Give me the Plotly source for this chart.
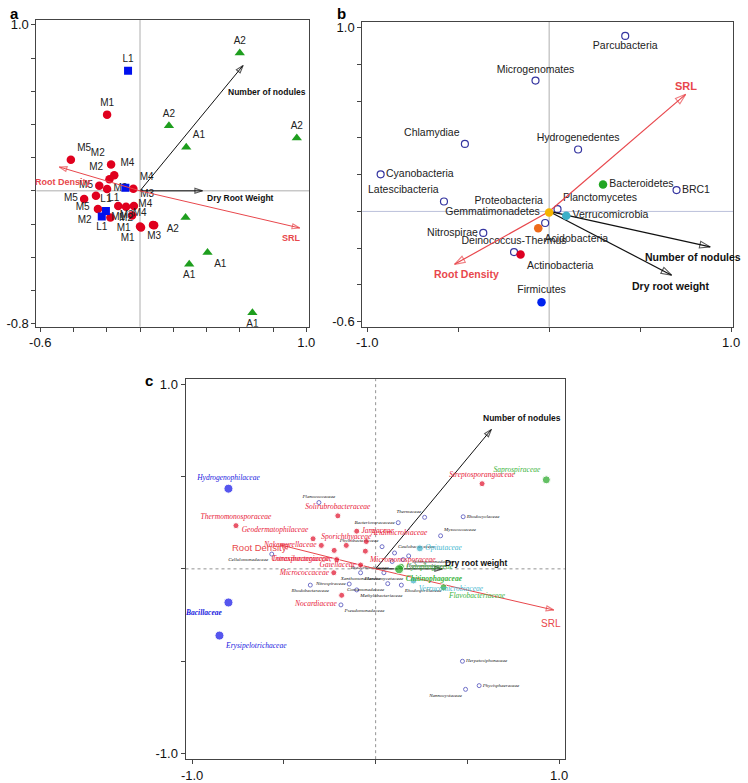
import plotly.graph_objects as go

# ---------------- Panel a data ----------------
a_m_x = [-0.198, -0.416, -0.174, -0.155, -0.184, -0.245, -0.198, -0.040, -0.265, -0.336, -0.253, -0.131, -0.084, -0.037, -0.178, -0.048, 0.006, 0.085, 0.000, 0.078]
a_m_y = [0.459, 0.187, 0.159, 0.094, 0.070, 0.030, 0.011, 0.012, -0.030, -0.049, -0.109, -0.092, -0.096, -0.092, -0.161, -0.148, -0.221, -0.207, -0.215, -0.205]
a_m_lab = ["M1", "M5", "M2", "M4", "M2", "M5", "M2", "M4", "M5", "M5", "M2", "M1", "M2", "M3", "M1", "M4", "M1", "M3", "M3", "M4"]
a_l_x = [-0.072, -0.088, -0.205, -0.230]
a_l_y = [0.724, 0.019, -0.121, -0.154]
a_l_lab = ["L1", "L1", "L1", "L1"]
a_a_x = [0.600, 0.174, 0.278, 0.943, 0.274, 0.406, 0.296, 0.676]
a_a_y = [0.830, 0.392, 0.263, 0.318, -0.160, -0.372, -0.442, -0.735]
a_a_lab = ["A2", "A2", "A1", "A2", "A2", "A1", "A1", "A1"]
a_vec_names = ["Number of nodules", "Dry Root Weight", "SRL", "Root Density"]
a_vec_x = [0.620, 0.376, 0.961, -0.486]
a_vec_y = [0.755, 0.000, -0.224, 0.144]

# ---------------- Panel b data ----------------
b_names = ["Parcubacteria", "Microgenomates", "Chlamydiae", "Hydrogenedentes", "Cyanobacteria",
           "Bacteroidetes", "BRC1", "Latescibacteria", "Proteobacteria", "Planctomycetes",
           "Verrucomicrobia", "Gemmatimonadetes", "Acidobacteria", "Nitrospirae",
           "Deinococcus-Thermus", "Actinobacteria", "Firmicutes"]
b_x = [0.418, -0.075, -0.463, 0.159, -0.926, 0.296, 0.700, -0.578, 0.000, 0.046, 0.094, -0.022, -0.060, -0.362, -0.193, -0.157, -0.042]
b_y = [0.955, 0.712, 0.367, 0.337, 0.202, 0.147, 0.116, 0.054, -0.006, 0.012, -0.024, -0.063, -0.092, -0.117, -0.221, -0.234, -0.494]
b_vec_names = ["SRL", "Root Density", "Number of nodules", "Dry root weight"]
b_vec_x = [0.750, -0.520, 0.885, 0.673]
b_vec_y = [0.637, -0.288, -0.193, -0.347]

# ---------------- Panel c data ----------------
c_names = ["Hydrogenophilaceae", "Bacillaceae", "Erysipelotrichaceae",
           "Streptosporangiaceae", "Thermomonosporaceae", "Solirubrobacteraceae", "Jamiaceae",
           "Geodermatophilaceae", "Sporichthyaceae", "Acidimicrobiaceae", "Nakamurellaceae",
           "Conexibacteraceae", "Micromonosporaceae", "Intrasporangiaceae", "Gaiellaceae",
           "Micrococcaceae", "Nocardiaceae",
           "Saprospiraceae", "Cytophagaceae", "Chitinophagaceae", "Flavobacteriaceae",
           "Opitutaceae", "Verrucomicrobiaceae"]
c_x = [-0.802, -0.802, -0.851,
       0.580, -0.761, -0.206, -0.103, -0.341, -0.160, -0.051, -0.296, -0.226, -0.056, -0.212, -0.082, -0.228, -0.185,
       0.930, 0.138, 0.128, 0.370,
       0.241, 0.206]
c_y = [0.434, -0.182, -0.361,
       0.461, 0.234, 0.287, 0.204, 0.163, 0.127, 0.148, 0.127, 0.100, 0.096, 0.050, 0.021, -0.021, -0.143,
       0.482, 0.012, -0.002, -0.100,
       0.111, -0.063]
c_minor_names = ["Planococcaceae", "Bacteriovoracaceae", "Thermaceae", "Rhodocyclaceae", "Myxococcaceae",
                 "Cellulomonadaceae", "Phyllobacteriaceae", "Caulobacteraceae", "Sphingomonadaceae",
                 "Hyphomicrobiaceae", "Bradyrhizobiaceae", "Xanthomonadaceae", "Planctomycetaceae",
                 "Rhodobacteraceae", "Nitrospiraceae", "Comamonadaceae", "Methylobacteriaceae",
                 "Rhodospirillaceae", "Pseudomonadaceae", "Herpetosiphonaceae", "Phycisphaeraceae",
                 "Nannocystaceae"]
c_minor_x = [-0.309, 0.123, 0.267, 0.477, 0.354, -0.566, 0.035, 0.103, 0.180, 0.150, 0.090, -0.082, 0.045,
             -0.356, -0.144, 0.066, -0.103, 0.140, -0.189, 0.473, 0.564, 0.490]
c_minor_y = [0.359, 0.250, 0.279, 0.282, 0.179, 0.080, 0.120, 0.086, 0.070, 0.050, 0.040, -0.021, -0.021,
             -0.088, -0.082, -0.080, -0.114, -0.088, -0.195, -0.500, -0.632, -0.652]
c_vec_names = ["Number of nodules", "Dry root weight", "SRL", "Root Density"]
c_vec_x = [0.631, 0.364, 0.971, -0.520]
c_vec_y = [0.755, 0.000, -0.223, 0.130]

# ---------------- styles ----------------
RED = "#E0001E"
GREEN = "#1E9E1E"
BLUE = "#0010EE"
ARROW_RED = "#E8474C"
TXT = "#222222"

a_m_pos = ["top center", "top right", "top left", "top right", "top left", "middle left", "middle right",
           "top right", "bottom left", "middle left", "bottom left", "bottom center", "bottom center",
           "top right", "bottom right", "top right", "bottom left", "bottom center", "top left", "top left"]
a_l_pos = ["top center", "bottom left", "top center", "bottom center"]
a_a_pos = ["top center", "top center", "top right", "top center", "bottom left", "bottom right",
           "bottom center", "bottom center"]

b_style = {
    "Bacteroidetes": "#22A622", "Proteobacteria": "#F5B400", "Verrucomicrobia": "#3BB0C8",
    "Acidobacteria": "#EE6A1A", "Actinobacteria": "#DD0022", "Firmicutes": "#0022EE",
}
b_pos = ["bottom center", "top center", "top left", "top center", "middle right", "middle right",
         "middle right", "top left", "top left", "top right", "middle right", "top left", "bottom right",
         "middle left", "top center", "bottom right", "top center"]

c_col = (["#1010E8"] * 3 + ["#E0102A"] * 14 + ["#22A622"] * 4 + ["#3BAFC8"] * 2)
c_txtcol = (["#2020E0"] * 3 + ["#E8213A"] * 14 + ["#3CB43C"] * 4 + ["#45B8D0"] * 2)
c_size = [9, 9, 9] + [6] * 14 + [8, 7, 9, 7] + [7, 7]
c_pos = ["top center", "bottom left", "bottom right",
         "top center", "top center", "top center", "middle right", "top left", "top center", "top right",
         "middle left", "bottom left", "bottom right", "middle left", "middle left", "middle left", "bottom left",
         "top left", "middle right", "bottom right", "bottom right",
         "middle right", "bottom right"]
c_bold = {"Bacillaceae", "Chitinophagaceae"}
c_minor_pos = ["top center", "middle left", "top left", "middle right", "top right", "bottom left",
               "top left", "top right", "bottom right", "bottom right", "bottom left", "bottom center",
               "bottom center", "bottom center", "middle left", "bottom left", "bottom right", "bottom right",
               "bottom right", "middle right", "middle right", "bottom left"]

fig = go.Figure()


def arrow(xa, ya, vx, vy, color, width=1.1, size=8):
    fig.add_trace(go.Scatter(
        x=[0, vx], y=[0, vy], xaxis=xa, yaxis=ya, mode="lines+markers",
        line=dict(color=color, width=width),
        marker=dict(symbol=["circle", "arrow-open"], size=[0, size], angleref="previous",
                    color=color, line=dict(color=color, width=1.1)),
        hoverinfo="skip", showlegend=False))


# ---------- Panel a ----------
fig.add_trace(go.Scatter(x=a_m_x, y=a_m_y, xaxis="x", yaxis="y", mode="markers+text", text=a_m_lab,
                         textposition=a_m_pos, textfont=dict(size=10, color=TXT, family="Arial"),
                         marker=dict(color=RED, size=8.5), showlegend=False))
fig.add_trace(go.Scatter(x=a_l_x, y=a_l_y, xaxis="x", yaxis="y", mode="markers+text", text=a_l_lab,
                         textposition=a_l_pos, textfont=dict(size=10, color=TXT, family="Arial"),
                         marker=dict(color=BLUE, size=8, symbol="square"), showlegend=False))
fig.add_trace(go.Scatter(x=a_a_x, y=a_a_y, xaxis="x", yaxis="y", mode="markers+text", text=a_a_lab,
                         textposition=a_a_pos, textfont=dict(size=10, color=TXT, family="Arial"),
                         marker=dict(color=GREEN, size=9, symbol="triangle-up"), showlegend=False))
a_cols = ["#111111", "#111111", ARROW_RED, ARROW_RED]
for i in range(4):
    arrow("x", "y", a_vec_x[i], a_vec_y[i], a_cols[i], width=1)

# ---------- Panel b ----------
open_idx = [i for i, n in enumerate(b_names) if n not in b_style]
fill_idx = [i for i, n in enumerate(b_names) if n in b_style]
fig.add_trace(go.Scatter(x=[b_x[i] for i in open_idx], y=[b_y[i] for i in open_idx], xaxis="x2", yaxis="y2",
                         mode="markers+text", text=[b_names[i] for i in open_idx],
                         textposition=[b_pos[i] for i in open_idx],
                         textfont=dict(size=10.5, color=TXT, family="Arial"),
                         marker=dict(symbol="circle-open", size=7, color="#3535A0", line=dict(width=1.2)),
                         showlegend=False))
b_arrow_cols = [ARROW_RED, ARROW_RED, "#111111", "#111111"]
for i in range(4):
    arrow("x2", "y2", b_vec_x[i], b_vec_y[i], b_arrow_cols[i], width=1.2, size=11)
fig.add_trace(go.Scatter(x=[b_x[i] for i in fill_idx], y=[b_y[i] for i in fill_idx], xaxis="x2", yaxis="y2",
                         mode="markers+text", text=[b_names[i] for i in fill_idx],
                         textposition=[b_pos[i] for i in fill_idx],
                         textfont=dict(size=10.5, color=TXT, family="Arial"),
                         marker=dict(size=8.5, color=[b_style[b_names[i]] for i in fill_idx]),
                         showlegend=False))

# ---------- Panel c ----------
fig.add_trace(go.Scatter(x=c_minor_x, y=c_minor_y, xaxis="x3", yaxis="y3", mode="markers+text",
                         text=["<i>" + n + "</i>" for n in c_minor_names], textposition=c_minor_pos,
                         textfont=dict(size=5, color="#111111", family="Liberation Serif"),
                         marker=dict(symbol="circle-open", size=4, color="#7070C8", line=dict(width=1)),
                         showlegend=False))
c_arrow_cols = ["#111111", "#111111", ARROW_RED, ARROW_RED]
for i in range(4):
    arrow("x3", "y3", c_vec_x[i], c_vec_y[i], c_arrow_cols[i], width=1, size=8)
fig.add_trace(go.Scatter(x=c_x, y=c_y, xaxis="x3", yaxis="y3", mode="markers+text",
                         text=[("<b><i>" + n + "</i></b>") if n in c_bold else ("<i>" + n + "</i>") for n in c_names],
                         textposition=c_pos,
                         textfont=dict(size=7.5, color=c_txtcol, family="Liberation Serif"),
                         marker=dict(size=c_size, color=c_col), showlegend=False))

# ---------- arrow labels ----------
ann = []
a_lab_style = [dict(xs=24, ys=-27, col="#111111", bold=True, size=8.5, anchor="center"),
               dict(xs=2, ys=-7, col="#111111", bold=True, size=8.5, anchor="left"),
               dict(xs=-8, ys=-10, col=ARROW_RED, bold=True, size=9, anchor="center"),
               dict(xs=4, ys=-15, col=ARROW_RED, bold=True, size=9, anchor="center")]
b_lab_style = [dict(xs=0, ys=8, col=ARROW_RED, bold=True, size=11, anchor="center"),
               dict(xs=12, ys=-10, col=ARROW_RED, bold=True, size=10.5, anchor="center"),
               dict(xs=-17, ys=-10, col="#111111", bold=True, size=10.5, anchor="center"),
               dict(xs=-1, ys=-11, col="#111111", bold=True, size=10.5, anchor="center")]
c_lab_style = [dict(xs=31, ys=11, col="#111111", bold=True, size=8.5, anchor="center"),
               dict(xs=34, ys=6, col="#111111", bold=True, size=8.5, anchor="center"),
               dict(xs=-3, ys=-13, col=ARROW_RED, bold=False, size=10, anchor="center"),
               dict(xs=-21, ys=-3, col=ARROW_RED, bold=False, size=9.5, anchor="center")]
for names, vx, vy, styles, xr, yr in [(a_vec_names, a_vec_x, a_vec_y, a_lab_style, "x", "y"),
                                       (b_vec_names, b_vec_x, b_vec_y, b_lab_style, "x2", "y2"),
                                       (c_vec_names, c_vec_x, c_vec_y, c_lab_style, "x3", "y3")]:
    for n, x, y, s in zip(names, vx, vy, styles):
        ann.append(dict(x=x, y=y, xref=xr, yref=yr, text=("<b>%s</b>" % n) if s["bold"] else n,
                        showarrow=False, xshift=s["xs"], yshift=s["ys"], xanchor=s["anchor"],
                        font=dict(size=s["size"], color=s["col"], family="Arial")))

# panel letters
for t, x, y in [("a", 0.002, 0.999), ("b", 0.447, 0.999), ("c", 0.185, 0.525)]:
    ann.append(dict(x=x, y=y, xref="paper", yref="paper", text="<b>%s</b>" % t, showarrow=False,
                    xanchor="left", yanchor="top", font=dict(size=15, color="#000", family="Arial")))


def axis(domain, rng, tickvals, shown, anchor):
    return dict(domain=domain, range=rng, tickvals=tickvals,
                ticktext=[(("%.1f" % v) if v in shown else "") for v in tickvals],
                showgrid=False, zeroline=False, showline=True, linecolor="#444", linewidth=1,
                mirror=True, ticks="outside", ticklen=4, tickcolor="#444",
                tickfont=dict(size=13, color="#111", family="Arial"), anchor=anchor, fixedrange=True)


a_xt = [-0.6, -0.4, -0.2, 0.0, 0.2, 0.4, 0.6, 0.8, 1.0]
a_yt = [-0.8, -0.6, -0.4, -0.2, 0.0, 0.2, 0.4, 0.6, 0.8, 1.0]
b_xt = [-1.0, -0.5, 0.0, 0.5, 1.0]
b_yt = [-0.6, -0.4, -0.2, 0.0, 0.2, 0.4, 0.6, 0.8, 1.0]
c_xt = [-1.0, -0.5, 0.0, 0.5, 1.0]
c_yt = [-1.0, -0.5, 0.0, 0.5, 1.0]

shapes = []
for xr, yr, dash, col in [("x", "y", "solid", "#999"), ("x2", "y2", "solid", "#999"), ("x3", "y3", "dot", "#777")]:
    shapes.append(dict(type="line", xref=xr, yref=yr + " domain", x0=0, x1=0, y0=0, y1=1,
                       line=dict(color=col, width=0.8, dash=dash), layer="below"))
    shapes.append(dict(type="line", xref=xr + " domain", yref=yr, x0=0, x1=1, y0=0, y1=0,
                       line=dict(color=("#AAB0D0" if xr == "x2" else col), width=0.8, dash=dash), layer="below"))

fig.update_layout(
    width=748, height=783, margin=dict(l=0, r=0, t=0, b=0),
    paper_bgcolor="white", plot_bgcolor="white",
    xaxis=axis([0.0401, 0.4118], [-0.623, 1.018], a_xt, [-0.6, 1.0], "y"),
    yaxis=axis([0.5811, 0.977], [-0.818, 1.030], a_yt, [-0.8, 1.0], "x"),
    xaxis2=axis([0.484, 0.9893], [-1.027, 1.011], b_xt, [-1.0, 1.0], "y2"),
    yaxis2=axis([0.5811, 0.9745], [-0.627, 1.032], b_yt, [-0.6, 1.0], "x2"),
    xaxis3=axis([0.2432, 0.760], [-1.036, 1.031], c_xt, [-1.0, 1.0], "y3"),
    yaxis3=axis([0.023, 0.5134], [-1.030, 1.027], c_yt, [-1.0, 1.0], "x3"),
    annotations=ann, shapes=shapes, showlegend=False,
)

fig.write_html("out.html", config={"displayModeBar": False},
               post_script="document.body.style.margin='0';document.body.style.overflow='hidden';")
